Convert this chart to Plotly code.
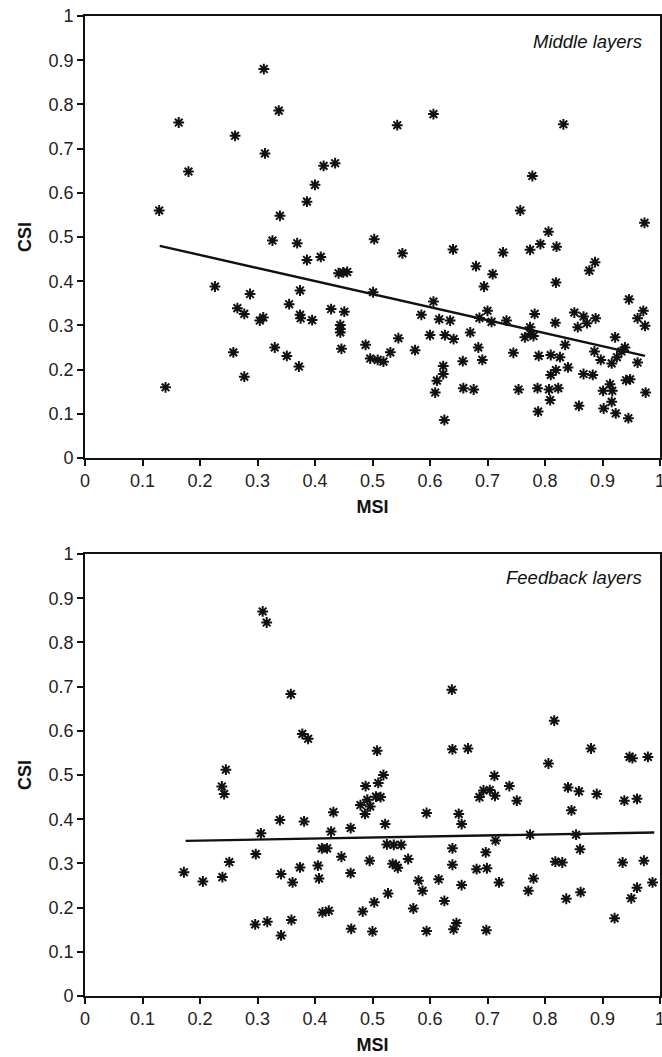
import plotly.graph_objects as go
from plotly.subplots import make_subplots

# ---- Middle layers (top panel) ----
mid_msi = [0.311, 0.337, 0.163, 0.261, 0.313, 0.415, 0.435, 0.180, 0.400, 0.386, 0.129, 0.339,
           0.543, 0.606, 0.832, 0.778, 0.757, 0.806, 0.973,
           0.326, 0.369, 0.386, 0.410, 0.226, 0.287, 0.374, 0.265, 0.277, 0.355, 0.374, 0.375,
           0.310, 0.304, 0.395, 0.428, 0.258, 0.330, 0.351, 0.277, 0.372, 0.140,
           0.503, 0.552, 0.640, 0.727, 0.774, 0.792, 0.820, 0.887, 0.877, 0.680, 0.709, 0.694,
           0.819, 0.441, 0.449, 0.456, 0.501, 0.946, 0.606, 0.700, 0.451, 0.585, 0.616, 0.635,
           0.686, 0.707, 0.733, 0.782, 0.818, 0.851, 0.867, 0.888, 0.873, 0.857, 0.971, 0.961,
           0.974, 0.774, 0.775, 0.765, 0.780, 0.444, 0.444, 0.444, 0.446, 0.600, 0.626, 0.641,
           0.670, 0.545, 0.488, 0.496, 0.509, 0.519, 0.531, 0.574, 0.684, 0.691, 0.657, 0.623,
           0.623, 0.612, 0.609, 0.625, 0.658, 0.676, 0.745, 0.754, 0.789, 0.787, 0.788, 0.810,
           0.826, 0.835, 0.840, 0.819, 0.810, 0.807, 0.823, 0.809, 0.859, 0.867, 0.883, 0.886,
           0.897, 0.916, 0.925, 0.922, 0.933, 0.939, 0.961, 0.941, 0.948, 0.913, 0.901, 0.917,
           0.916, 0.902, 0.923, 0.945, 0.975]
mid_csi = [0.880, 0.786, 0.759, 0.729, 0.689, 0.661, 0.667, 0.648, 0.618, 0.580, 0.560, 0.548,
           0.753, 0.778, 0.755, 0.638, 0.560, 0.512, 0.532,
           0.492, 0.486, 0.448, 0.455, 0.388, 0.371, 0.379, 0.339, 0.326, 0.348, 0.324, 0.316,
           0.318, 0.311, 0.312, 0.337, 0.239, 0.250, 0.231, 0.184, 0.207, 0.160,
           0.495, 0.463, 0.472, 0.465, 0.471, 0.484, 0.478, 0.443, 0.424, 0.434, 0.416, 0.388,
           0.397, 0.418, 0.420, 0.421, 0.375, 0.359, 0.354, 0.333, 0.331, 0.324, 0.314, 0.311,
           0.317, 0.308, 0.311, 0.326, 0.306, 0.329, 0.320, 0.316, 0.305, 0.296, 0.333, 0.316,
           0.299, 0.296, 0.281, 0.273, 0.276, 0.301, 0.292, 0.284, 0.247, 0.278, 0.278, 0.269,
           0.284, 0.271, 0.256, 0.225, 0.222, 0.218, 0.239, 0.244, 0.250, 0.222, 0.219, 0.208,
           0.190, 0.175, 0.148, 0.086, 0.158, 0.155, 0.238, 0.155, 0.231, 0.158, 0.105, 0.233,
           0.228, 0.256, 0.205, 0.199, 0.188, 0.155, 0.158, 0.131, 0.118, 0.190, 0.188, 0.241,
           0.222, 0.214, 0.228, 0.273, 0.241, 0.250, 0.216, 0.176, 0.178, 0.167, 0.152, 0.152,
           0.127, 0.112, 0.101, 0.090, 0.148]
mid_fit_msi = [0.13, 0.974]
mid_fit_csi = [0.480, 0.231]

# ---- Feedback layers (bottom panel) ----
fb_msi = [0.309, 0.316, 0.358, 0.378, 0.388, 0.245,
          0.638, 0.816, 0.508, 0.639, 0.666, 0.880, 0.806, 0.947, 0.952, 0.979,
          0.238, 0.242, 0.339, 0.381, 0.306, 0.172, 0.205, 0.239, 0.251, 0.297, 0.341, 0.361,
          0.374, 0.405, 0.407, 0.412, 0.421, 0.296, 0.317, 0.341, 0.359, 0.413, 0.424,
          0.519, 0.510, 0.488, 0.491, 0.506, 0.514, 0.479, 0.496, 0.487, 0.432, 0.428, 0.462,
          0.522, 0.594, 0.650, 0.655, 0.686, 0.693, 0.704, 0.712, 0.713, 0.738, 0.751, 0.840,
          0.859, 0.890, 0.846, 0.938, 0.960, 0.774, 0.854, 0.714, 0.861, 0.525, 0.537, 0.550,
          0.446, 0.495, 0.535, 0.541, 0.544, 0.562, 0.462, 0.639, 0.639, 0.697, 0.681, 0.699,
          0.818, 0.830, 0.935, 0.972, 0.580, 0.587, 0.615, 0.655, 0.720, 0.780, 0.771, 0.527,
          0.503, 0.483, 0.571, 0.625, 0.837, 0.862, 0.960, 0.950, 0.987, 0.921, 0.463, 0.500,
          0.594, 0.641, 0.646, 0.698]
fb_csi = [0.870, 0.845, 0.683, 0.593, 0.582, 0.512,
          0.693, 0.623, 0.555, 0.558, 0.560, 0.560, 0.526, 0.541, 0.538, 0.541,
          0.474, 0.457, 0.398, 0.395, 0.368, 0.280, 0.259, 0.269, 0.303, 0.321, 0.276, 0.257,
          0.291, 0.295, 0.266, 0.334, 0.334, 0.162, 0.168, 0.137, 0.172, 0.189, 0.193,
          0.500, 0.482, 0.475, 0.444, 0.451, 0.450, 0.432, 0.429, 0.412, 0.416, 0.372, 0.380,
          0.389, 0.414, 0.412, 0.389, 0.450, 0.465, 0.466, 0.498, 0.453, 0.475, 0.442, 0.472,
          0.463, 0.457, 0.420, 0.442, 0.446, 0.365, 0.365, 0.352, 0.332, 0.343, 0.342, 0.342,
          0.315, 0.306, 0.299, 0.296, 0.290, 0.310, 0.278, 0.334, 0.297, 0.325, 0.287, 0.289,
          0.304, 0.302, 0.302, 0.306, 0.261, 0.238, 0.264, 0.251, 0.257, 0.266, 0.238, 0.232,
          0.212, 0.191, 0.198, 0.215, 0.220, 0.235, 0.245, 0.221, 0.257, 0.176, 0.152, 0.146,
          0.147, 0.151, 0.165, 0.149]
fb_fit_msi = [0.175, 0.99]
fb_fit_csi = [0.351, 0.370]

tick_vals = [0, 0.1, 0.2, 0.3, 0.4, 0.5, 0.6, 0.7, 0.8, 0.9, 1]
tick_text = ["0", "0.1", "0.2", "0.3", "0.4", "0.5", "0.6", "0.7", "0.8", "0.9", "1"]

W, H = 662, 1057
fig = make_subplots(rows=2, cols=1)

marker = dict(symbol="asterisk-open", size=9, color="#111",
              line=dict(color="#111", width=2))

fig.add_trace(go.Scatter(x=mid_msi, y=mid_csi, mode="markers", marker=marker,
                         showlegend=False), row=1, col=1)
fig.add_trace(go.Scatter(x=mid_fit_msi, y=mid_fit_csi, mode="lines",
                         line=dict(color="#111", width=2.4), showlegend=False), row=1, col=1)
fig.add_trace(go.Scatter(x=fb_msi, y=fb_csi, mode="markers", marker=marker,
                         showlegend=False), row=2, col=1)
fig.add_trace(go.Scatter(x=fb_fit_msi, y=fb_fit_csi, mode="lines",
                         line=dict(color="#111", width=2.4), showlegend=False), row=2, col=1)

FONT = "Liberation Sans, Arial, sans-serif"
tickfont = dict(family=FONT, size=18, color="#222")
titlefont = dict(family=FONT, size=18, color="#111")

axis_common = dict(range=[0, 1], tickvals=tick_vals, ticktext=tick_text,
                   showgrid=False, zeroline=False, showline=True, linecolor="#111",
                   linewidth=1.6, mirror=True, ticks="outside", ticklen=6,
                   tickwidth=1.6, tickcolor="#111", tickfont=tickfont, automargin=False,
                   ticklabeloverflow="allow")

top_dom = [(H - 458) / H, (H - 16) / H]
bot_dom = [(H - 996) / H, (H - 554) / H]

fig.update_layout(
    width=W, height=H,
    margin=dict(l=85, r=2, t=0, b=0, autoexpand=False),
    paper_bgcolor="white", plot_bgcolor="white",
    xaxis=dict(axis_common, domain=[0, 1],
               title=dict(text="<b>MSI</b>", font=titlefont, standoff=10)),
    xaxis2=dict(axis_common, domain=[0, 1],
                title=dict(text="<b>MSI</b>", font=titlefont, standoff=10)),
    yaxis=dict(axis_common, domain=top_dom,
               title=dict(text="<b>CSI</b>", font=titlefont, standoff=12)),
    yaxis2=dict(axis_common, domain=bot_dom,
                title=dict(text="<b>CSI</b>", font=titlefont, standoff=12)),
)

fig.add_annotation(text="<i>Middle layers</i>", x=0.972, y=0.943, xref="x", yref="y",
                   xanchor="right", yanchor="middle", showarrow=False,
                   font=dict(family=FONT, size=18.5, color="#111"))
fig.add_annotation(text="<i>Feedback layers</i>", x=0.972, y=0.946, xref="x2", yref="y2",
                   xanchor="right", yanchor="middle", showarrow=False,
                   font=dict(family=FONT, size=18.5, color="#111"))

fig.write_html("out.html", config={"displayModeBar": False},
               post_script="document.body.style.margin='0';")
